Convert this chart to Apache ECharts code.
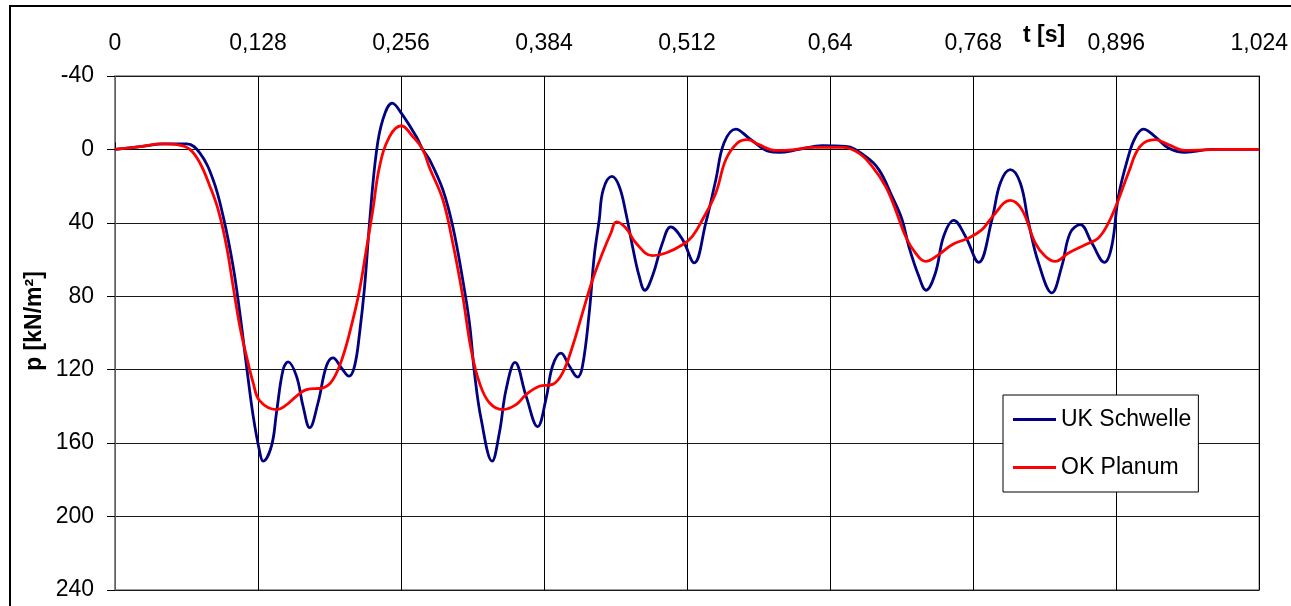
<!DOCTYPE html>
<html>
<head>
<meta charset="utf-8">
<script src="https://cdn.jsdelivr.net/npm/echarts@6/dist/echarts.min.js"></script>
<style>
  html, body { margin: 0; padding: 0; background: #fff; }
  #chart { width: 1291px; height: 606px; }
</style>
</head>
<body>
<div id="chart"></div>
<script>
// Pressure under the sleeper (UK Schwelle) and on the subgrade (OK Planum), t in s, p in kN/m²
const tSchwelle = [0, 0.0223, 0.0447, 0.0643, 0.0760, 0.0878, 0.0968, 0.1057, 0.1117, 0.1177,
  0.1236, 0.1296, 0.1325, 0.1400, 0.1445, 0.1504, 0.1549, 0.1624, 0.1683, 0.1742,
  0.1817, 0.1892, 0.1951, 0.2026, 0.2094, 0.2144, 0.2189, 0.2234, 0.2278, 0.2338,
  0.2397, 0.2481, 0.2562, 0.2696, 0.2755, 0.2815, 0.2934, 0.3023, 0.3112, 0.3172,
  0.3217, 0.3277, 0.3375, 0.3440, 0.3500, 0.3580, 0.3679, 0.3782, 0.3857, 0.3916,
  0.3991, 0.4066, 0.4140, 0.4184, 0.4244, 0.4289, 0.4334, 0.4369, 0.4447, 0.4512,
  0.4572, 0.4631, 0.4691, 0.4742, 0.4810, 0.4899, 0.4974, 0.5078, 0.5183, 0.5287,
  0.5377, 0.5450, 0.5555, 0.5674, 0.5853, 0.5942, 0.6121, 0.6329, 0.6538, 0.6717,
  0.6836, 0.6954, 0.7044, 0.7104, 0.7193, 0.7258, 0.7342, 0.7416, 0.7506, 0.7610,
  0.7729, 0.7848, 0.7923, 0.8012, 0.8102, 0.8176, 0.8265, 0.8384, 0.8473, 0.8548,
  0.8638, 0.8742, 0.8855, 0.8920, 0.8980, 0.9069, 0.9129, 0.9203, 0.9308, 0.9427,
  0.9576, 0.9814, 1.0240];
const pSchwelle = [0, -1.5, -3, -3, 2, 16.5, 36.5, 63.7, 89, 118,
  145, 165, 169.8, 161.6, 143.5, 120, 115.7, 123.5, 139.9, 151.6,
  138, 118, 113.5, 119, 123.5, 118, 100, 74.6, 40, 2,
  -16.2, -25.2, -19.8, -7, 0.2, 5.6, 22, 42, 71, 94.5,
  121.7, 147, 169.8, 154.3, 130.8, 116, 134.4, 151, 136, 118,
  111, 118, 124, 118, 89, 58, 38.2, 22, 14.7, 20,
  34.6, 52.7, 69, 76.7, 69, 51, 42.2, 49, 61.8, 40,
  16.5, -3.5, -11.1, -6.2, 1.1, 1.6, 0, -2, -1.6, 3.8,
  11, 25.6, 38.3, 52.8, 69, 76.7, 67.3, 47.3, 38.6, 47.3,
  61.5, 38.3, 18.3, 11, 18.3, 40, 61.8, 78.1, 63.7, 45.5,
  41, 51, 61.5, 52.8, 25.6, 3.8, -6.2, -11.1, -7, -0.8,
  1.6, 0, 0];

const tPlanum = [0, 0.0223, 0.0417, 0.0566, 0.0670, 0.0760, 0.0849, 0.0923, 0.0998, 0.1057,
  0.1117, 0.1177, 0.1236, 0.1296, 0.1445, 0.1537, 0.1624, 0.1713, 0.1861, 0.1951,
  0.2040, 0.2129, 0.2189, 0.2249, 0.2308, 0.2368, 0.2457, 0.2562, 0.2665, 0.2755,
  0.2815, 0.2934, 0.3023, 0.3112, 0.3187, 0.3261, 0.3351, 0.3470, 0.3589, 0.3679,
  0.3797, 0.3916, 0.4006, 0.4095, 0.4184, 0.4274, 0.4363, 0.4438, 0.4488, 0.4572,
  0.4662, 0.4810, 0.4930, 0.5078, 0.5167, 0.5257, 0.5377, 0.5466, 0.5570, 0.5659,
  0.5763, 0.5913, 0.6061, 0.6240, 0.6508, 0.6657, 0.6776, 0.6895, 0.6985, 0.7074,
  0.7163, 0.7253, 0.7372, 0.7491, 0.7640, 0.7759, 0.7848, 0.8012, 0.8116, 0.8236,
  0.8325, 0.8414, 0.8533, 0.8683, 0.8801, 0.8891, 0.8980, 0.9069, 0.9174, 0.9308,
  0.9427, 0.9576, 0.9933, 1.0240];
const pPlanum = [0, -1.5, -3, -2.5, 0, 7.4, 20, 32.8, 52.7, 74.6,
  96.3, 112.7, 127, 137, 141.7, 139, 134.4, 130.8, 129.9, 125.3,
  112.7, 92.7, 76.4, 54.6, 32.8, 9.2, -7, -12.9, -7, 0.2,
  10, 27.4, 51, 80, 109, 127, 138, 141.7, 139, 133.5,
  129, 128, 121.7, 107.2, 89, 71, 56.4, 45.5, 39.5, 42.8,
  51, 57.9, 56.4, 51.9, 47.3, 38.3, 23.7, 5.6, -3.5, -5.3,
  -2.6, 0.5, 0.2, -1.1, -1.1, 2, 9.2, 20, 32.8, 47.3,
  56.4, 61, 57.3, 51.9, 48.2, 43.7, 37, 27.7, 32.8, 51,
  58.2, 61, 56.4, 51.9, 48.2, 40, 27.4, 12.8, -1.6, -5.3,
  -2.6, 0.5, 0, 0];

const seriesNames = ['UK Schwelle', 'OK Planum'];
const xTitle = 't [s]';
const yTitle = 'p [kN/m²]';

const FONT = '"Liberation Sans", Arial, sans-serif';
const FS = 23;

function pairs(ts, ps) {
  return ts.map((t, i) => [t, ps[i]]);
}

const chart = echarts.init(document.getElementById('chart'), null, { renderer: 'canvas' });

chart.setOption({
  animation: false,
  backgroundColor: '#ffffff',
  textStyle: { fontFamily: FONT, color: '#000' },
  grid: {
    left: 115, right: 30, top: 76, bottom: 16,
    show: true, borderColor: '#808080', borderWidth: 1.5, backgroundColor: 'transparent'
  },
  xAxis: {
    type: 'value',
    position: 'top',
    min: 0, max: 1.024, interval: 0.128,
    axisLine: { show: true, lineStyle: { color: '#000', width: 1 } },
    axisTick: { show: true, inside: false, length: 7, lineStyle: { color: '#000', width: 1 } },
    axisLabel: {
      show: true, margin: 21, fontSize: FS, color: '#000', fontFamily: FONT,
      formatter: v => String(Math.round(v * 1000) / 1000).replace('.', ',')
    },
    splitLine: { show: true, lineStyle: { color: '#000', width: 1 } }
  },
  yAxis: {
    type: 'value',
    inverse: true,
    min: -40, max: 240, interval: 40,
    axisLine: { show: true, lineStyle: { color: '#808080', width: 1.5 } },
    axisTick: { show: true, inside: false, length: 8, lineStyle: { color: '#000', width: 1 } },
    axisLabel: { show: true, margin: 21, fontSize: FS, color: '#000', fontFamily: FONT },
    splitLine: { show: true, lineStyle: { color: '#1a1a1a', width: 1 } }
  },
  legend: {
    orient: 'vertical',
    left: 1003, top: 395,
    padding: [13, 7, 13, 10],
    itemGap: 25,
    itemWidth: 43, itemHeight: 3,
    backgroundColor: '#fff',
    borderColor: '#000', borderWidth: 1,
    textStyle: { fontSize: FS, color: '#000', fontFamily: FONT },
    data: [
      { name: seriesNames[0], icon: 'rect' },
      { name: seriesNames[1], icon: 'rect' }
    ]
  },
  graphic: [
    {
      type: 'rect', silent: true, z: -1,
      shape: { x: 10, y: 6, width: 1400, height: 700 },
      style: { fill: 'none', stroke: '#000', lineWidth: 2 }
    },
    {
      type: 'text', left: 1023, top: 24,
      style: { text: xTitle, font: 'bold ' + FS + 'px ' + FONT, fill: '#000' }
    },
    {
      type: 'text', x: 35, y: 321, rotation: Math.PI / 2,
      style: { text: yTitle, font: 'bold ' + FS + 'px ' + FONT, fill: '#000', align: 'center', verticalAlign: 'middle' }
    }
  ],
  series: [
    {
      name: seriesNames[0], type: 'line',
      data: pairs(tSchwelle, pSchwelle),
      showSymbol: false, smooth: 0.4,
      color: '#000080',
      lineStyle: { color: '#000080', width: 2.8 }
    },
    {
      name: seriesNames[1], type: 'line',
      data: pairs(tPlanum, pPlanum),
      showSymbol: false, smooth: 0.4,
      color: '#ff0000',
      lineStyle: { color: '#ff0000', width: 2.8 }
    }
  ]
});
</script>
</body>
</html>
